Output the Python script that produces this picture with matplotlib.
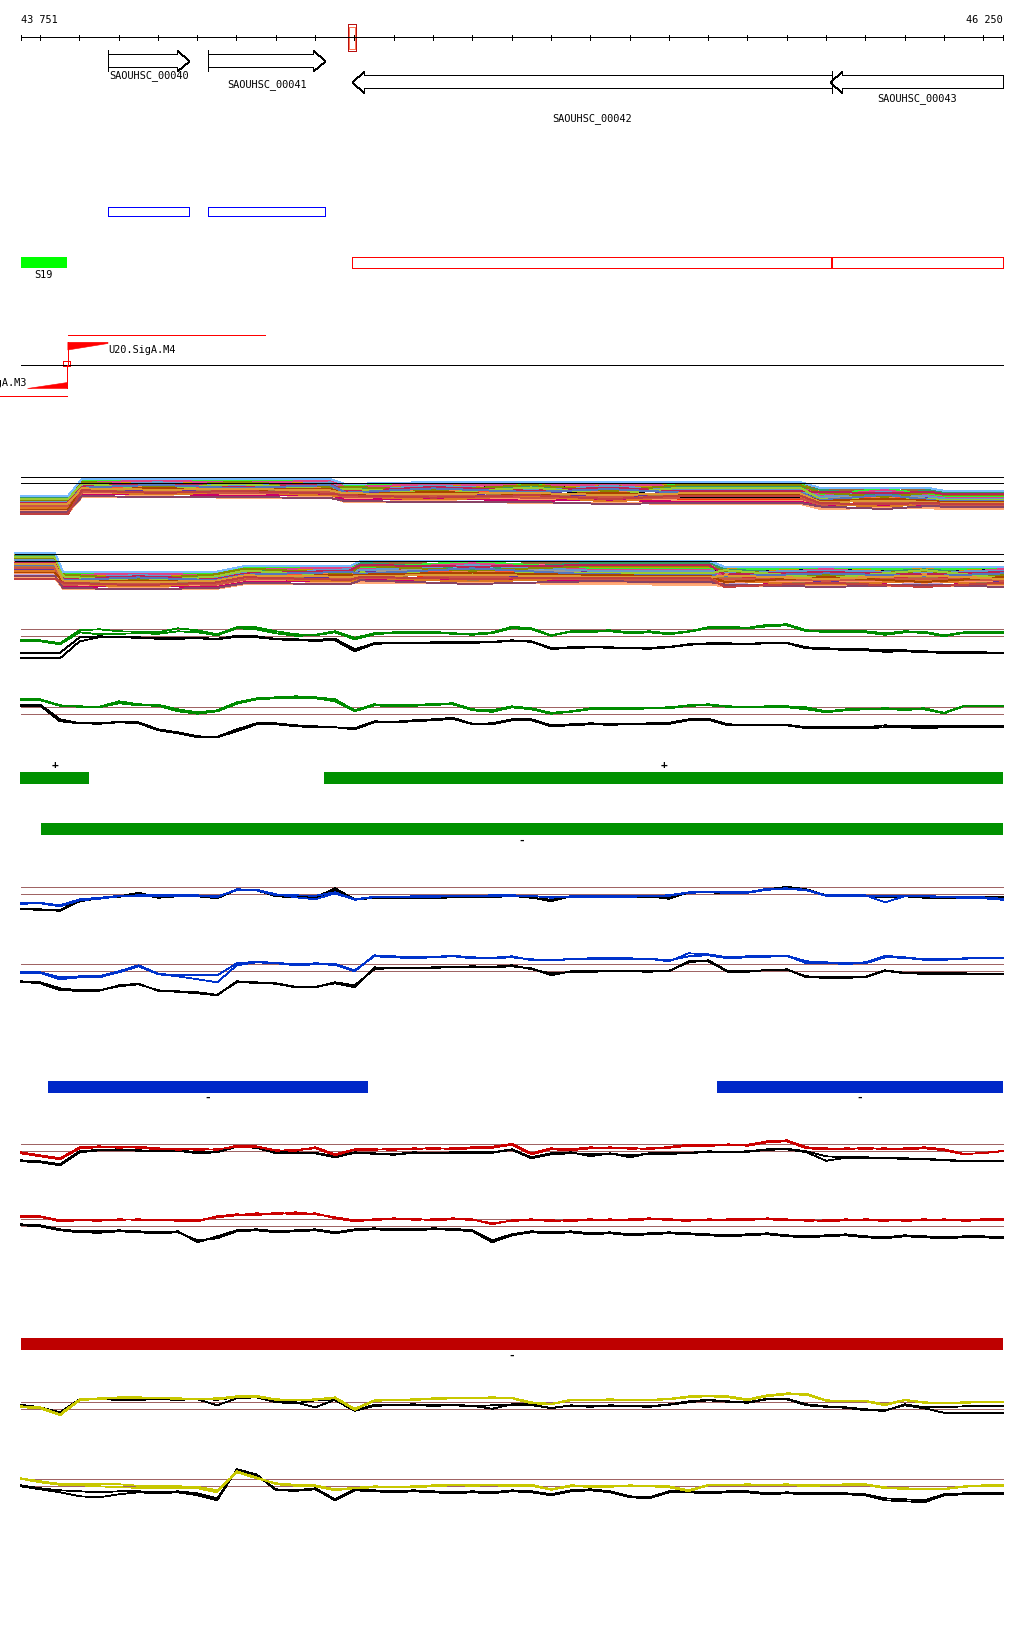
import numpy as np
import matplotlib
matplotlib.use("Agg")
import matplotlib.pyplot as plt
from matplotlib.patches import Polygon, Rectangle

# ---------------- data ----------------
view_start, view_end = 43751, 46250
tick_step = 100
marker_start, marker_end = 44584, 44605

gene_names = ['SAOUHSC_00040', 'SAOUHSC_00041', 'SAOUHSC_00042', 'SAOUHSC_00043']
gene_left = [43974, 44228, 44595, 45811]
gene_right = [44179, 44525, 45815, 46250]
gene_strand = ['+', '+', '-', '-']

cds_left = [43974, 44228]
cds_right = [44178, 44524]

s19_name = 'S19'
s19_left, s19_right = 43751, 43869

region_left = [44595, 45816]
region_right = [45813, 46250]

prom_names = ['U20.SigA.M4', 'U20.SigA.M3']
prom_pos = [43871, 43868]
prom_strand = ['+', '-']
prom_flag_bp = [102, 101]
prom_extent = [44372, 43600]

green_plus_left, green_plus_right = [43750, 44523], [43924, 46250]
green_minus_left, green_minus_right = [43803], [46250]
blue_minus_left, blue_minus_right = [43820, 45522], [44634, 46250]
red_minus_left, red_minus_right = [43751], [46250]

# line-track signal values (51 positions across the view)
grn_top_c1 = [-3.5, -4, -7, 6, 7, 5, 4.5, 4, 8, 6,
              2, 9, 9, 5, 2, 1.5, 5, -1.5, 3, 4,
              4, 4.5, 3, 2.5, 4, 9.5, 8, 1, 5, 5.5,
              6, 4, 5, 3, 5, 9, 9.5, 8.5, 11.5, 12,
              6, 5, 5, 5, 3, 5, 4.5, 1, 4, 4, 4]
grn_top_c2 = [-4.5, -5, -8, 4, 2, 2.5, 3, 2.5, 5, 4,
              1, 8, 7, 3, 0.5, 1, 4, -3, 2, 3.5,
              3.5, 3.5, 2.5, 1.5, 3, 8, 7, 0.5, 4.5, 4.5,
              5, 3, 4, 2, 4.5, 8, 8.5, 8, 10, 11,
              5, 4.5, 4, 4, 1.5, 4, 3.5, 0, 3.5, 3.5, 3.5]
grn_top_k1 = [-17, -17, -16.5, -1, 0, -0.5, -1, -2, -2, -1.5,
              -2.5, 0.5, 0, -2.5, -3, -3.5, -2.5, -13, -7, -6.5,
              -6.5, -6, -5.5, -6, -5.5, -4, -5, -11.5, -11, -10.5,
              -11, -11.5, -11.5, -10.5, -8, -7, -7, -7.5, -6.5, -6.5,
              -11, -12, -12.5, -13, -13.5, -14, -15, -15.5, -16, -16, -16.5]
grn_top_k2 = [-22, -22, -22, -5, -1, -1, -1.5, -2.5, -2.5, -2,
              -3, -0.5, -1, -3, -4, -4.5, -4, -15, -7.5, -7,
              -7, -6.5, -6.5, -6.5, -6, -4.5, -5.5, -12.5, -12, -11,
              -11.5, -12, -12.5, -11, -8.5, -7.5, -7.5, -8, -7, -7,
              -12, -13, -13.5, -14, -15.5, -15, -16, -16.5, -16.5, -16.5, -17]

grn_bot_c1 = [15.3, 15, 9, 8, 7.5, 13, 10, 9.5, 5, 2,
              4, 12, 16, 17, 18, 17, 15, 4, 10, 9,
              9, 10.5, 11, 5, 4, 8, 6, 1.5, 3, 6,
              6.5, 6, 6.5, 7, 9, 10, 8, 7.5, 8, 8,
              7, 3, 5, 5.5, 6, 5.5, 6, 1.5, 8.5, 8.5, 8.5]
grn_bot_c2 = [14.5, 14, 8.5, 7.5, 7, 11, 9, 8.5, 3, 0.5,
              3, 10.5, 15, 16, 16.5, 16, 13, 3, 9, 8,
              8.5, 9.5, 10, 4, 2.5, 7, 5, 0.5, 2.5, 5,
              5.5, 5, 6, 6, 8.5, 9, 7.5, 7, 7, 7,
              5, 2, 4, 5, 5, 4.5, 5, 1, 8, 8, 8]
grn_bot_k1 = [9.7, 9.5, -5, -9, -9, -7.5, -8, -15, -18, -22,
              -22.5, -15, -9, -9, -11, -12, -13, -14, -7, -7.5,
              -6, -5, -3.5, -9.5, -9, -5, -5, -11, -10, -9,
              -9.5, -9.5, -9, -8.5, -5, -4.5, -10, -10.5, -10.5, -10.5,
              -13, -13, -13, -13, -11, -12, -12, -12, -12, -12, -12]
grn_bot_k2 = [8.5, 8.5, -7, -9, -9.5, -8, -9, -16, -19, -23,
              -23, -17, -10, -10, -12, -13, -13, -15, -8, -8,
              -7, -6, -4.5, -10, -10, -6, -6, -12, -11, -10,
              -10.5, -10, -10, -9.5, -6, -5.5, -11, -11, -11, -11,
              -14, -14, -13.5, -14, -13, -13, -14, -13, -12.5, -12.5, -12.5]

blu_top_c1 = [-9, -8.5, -11, -5, -3.5, -1.5, -1, -1, -1, -1,
              -3, 5, 4.5, 0, -3, -5, 1, -5.5, -3, -2.5,
              -2, -2, -1.5, -1.5, -1, -1, -1.5, -3.5, -2, -2,
              -2, -2, -1.5, -1, 2, 2.5, 2, 2, 5.5, 6,
              4.5, -1, -1, -1, -8, -2, -1.5, -2.5, -3, -3, -4.5]
blu_top_c2 = [-9.5, -9, -12, -6, -4.5, -2, -1.5, -1.5, -1.5, -1.5,
              -2, 4, 4, -1, -1, -1.5, 2, -5, -2.5, -2.5,
              -2.5, -2.5, -2, -2, -1.5, -1.5, -2, -2.5, -2.5, -2.5,
              -2.5, -2.5, -2, -1.5, 1.5, 2, 1.5, 1.5, 4.5, 5.5,
              4, -1.5, -1.5, -2, -2, -1.5, -2, -3, -3.5, -4, -5.5]
blu_top_k1 = [-14.7, -15, -16, -5, -3.5, -2, 1.5, -3, -1.5, -1.5,
              -3, 5, 4.5, -1.5, -2.5, -3, 6, -5, -3, -3,
              -3, -3.5, -2.5, -2.5, -2.5, -1, -3, -7, -2, -2,
              -2, -2, -2, -4.5, 2, 2.5, 1.5, 2, 5, 7.5,
              5, -1, -1.5, -1.5, -2, -1.5, -3, -3, -3, -3, -2.5]
blu_top_k2 = [-15, -15.5, -16.5, -7, -4, -2.5, 0.5, -3.5, -2, -2,
              -4, 4.5, 4, -2, -3, -3.5, 4.5, -5.5, -3.5, -3.5,
              -3.5, -4, -3, -3, -3, -1.5, -3.5, -5.5, -2.5, -2.5,
              -2.5, -2.5, -2.5, -3, 1.5, 2, 1, 1.5, 4.5, 6.5,
              4.5, -1.5, -2, -2, -3, -2, -3.5, -3.5, -3.5, -3.5, -3]

blu_bot_c1 = [-1, -1, -6, -5, -5, 0, 6, -2.5, -4, -4,
              -4, 8, 9.5, 8.5, 7, 8, 7.5, 1, 15, 14,
              13, 14, 15, 13, 13, 14, 12, 11, 12, 12,
              12.5, 12.5, 12.5, 11, 15, 16, 13, 14, 14.5, 15.5,
              10, 9, 8, 9, 15.5, 14, 12, 12, 13, 13, 13]
blu_bot_c2 = [-1.5, -1.5, -8, -6, -6, -1, 5, -3, -5, -8,
              -11, 6, 9, 8, 6, 7, 6.5, 0, 16, 15,
              14, 14.5, 15.5, 14, 13.5, 15, 11, 11, 12.5, 13,
              13, 13, 12.5, 10, 18, 17, 14, 15, 15, 15.5,
              8, 8, 7.5, 8, 14, 13.5, 11.5, 11.5, 12.5, 13.5, 13.5]
blu_bot_k1 = [-10, -11, -17, -19, -19, -15, -13, -19, -20, -21,
              -23.5, -11, -11.5, -12, -15.5, -15.5, -12, -16, 4, 3,
              3, 3.5, 4, 4.5, 4, 5, 3, -4, 0, 0,
              0.5, 0.5, 0, 0, 10, 10, -0.5, -0.5, 1.5, 1.5,
              -5, -6, -6, -5.5, 1, -1.5, -2, -2, -2, -2.5, -2.5]
blu_bot_k2 = [-10.5, -12, -19, -19.5, -19.5, -14, -12.5, -19.5, -20.5, -22,
              -24, -10, -11, -12.5, -16, -16, -11, -14, 2, 3.5,
              3, 4, 4.5, 5, 4.5, 6, 2, -2, -1, -0.5,
              0, 0, -0.5, 0.5, 9, 11, 0, 0, 1, 2,
              -6, -6.5, -6.5, -6, 0.5, -2, -2.5, -2.5, -2.5, -3, -3]

red_top_c1 = [-1, -4, -7, 4, 5, 3.5, 4.5, 3, 1.5, 2.5,
              1.5, 5.5, 5, 1, 0.5, 4, -3, 2, 2, 1.5,
              3, 2.5, 3, 4, 4.5, 7.5, -2, 3, 2, 4,
              3, 3.5, 2, 4.5, 6.5, 6, 6, 6.5, 10, 11,
              4, 3, 2, 3.5, 2, 3, 4, 2, -2.5, -2, 0.5]
red_top_c2 = [-2, -5, -8, 3, 4, 4.5, 3.5, 2, 2.5, 1.5,
              2, 4.5, 4.5, 0.5, 1.5, 3, -4, 1.5, 1.5, 2.5,
              2, 3.5, 2, 3, 3.5, 6.5, -3, 2, 1, 3,
              4, 2.5, 3, 3.5, 5.5, 5, 7, 5.5, 9, 10,
              3, 2, 3, 2.5, 3, 2, 3, 1, -3, -1.5, 0]
red_top_k1 = [-9, -10, -13, 0, 1.5, 2, 1, 0.5, 1, -1,
              0, 5, 4, -1, -1, -1.5, -5, -1, -2, -3,
              -1, -1.5, -1, -1, -1, 2, -6, -2, -1, -5,
              -2, -6, -2, -2, -1.5, 0, -0.5, 0, 2, 2.5,
              0, -5, -6, -6, -6.5, -7, -7.5, -8.5, -9.5, -9.5, -9.5]
red_top_k2 = [-10, -11, -14, -1, 1, 1.5, 0.5, 0, 0.5, -2,
              -1, 4.5, 3.5, -2, -1.5, -2, -6, -1.5, -2.5, -3.5,
              -1.5, -2, -1.5, -1.5, -1.5, 1.5, -7, -3, -2, -3,
              -2.5, -4, -2.5, -2.5, -2, -0.5, -1, -0.5, 1.5, 2,
              -1, -9.5, -6.5, -6.5, -7, -7.5, -8, -9, -10, -10, -10]

red_bot_c1 = [10, 10, 6, 6.5, 6, 6.5, 7, 6, 6.5, 6,
              9, 11, 13, 12, 14, 12, 9, 6, 7, 8,
              6.5, 7, 8, 7, 2, 6, 7, 5, 6.5, 7,
              6, 7, 8, 6, 5.5, 7, 6.5, 6, 8, 7,
              5.5, 6, 7, 6, 5.5, 6.5, 7, 6, 6.5, 7, 7]
red_bot_c2 = [9, 9.5, 5, 6, 5.5, 7, 6.5, 6.5, 5.5, 5,
              10, 12, 11, 13.5, 12, 13, 8, 5, 6.5, 7,
              7.5, 6, 7, 6.5, 3, 5.5, 6, 6, 5.5, 6,
              7, 6, 7, 7, 6.5, 6, 7, 7, 7, 6,
              6.5, 5, 6, 7, 6.5, 5.5, 6, 7, 5.5, 6, 6]
red_bot_k1 = [2, 1, -3, -5, -5, -4, -5, -6, -5, -16,
              -10, -4, -3, -5, -4, -3, -6, -3, -2, -3,
              -3, -2, -2.5, -4, -14, -8, -5, -6, -5, -7,
              -6, -8, -7, -6, -7, -8, -9, -8, -7, -9,
              -10, -9, -8, -10, -11, -9, -10, -11, -10, -10, -11]
red_bot_k2 = [1, 0, -4, -6, -6.5, -5, -6, -7, -6, -14,
              -12, -5, -4, -6, -5, -4, -7, -4, -3, -4,
              -4, -3, -3.5, -5, -16, -9, -6, -7, -6, -8,
              -7, -9, -8, -7, -8, -9, -10, -9, -8, -10,
              -11, -10, -9, -11, -12, -10, -11, -12, -11, -11, -12]

yel_top_c1 = [3, 2, -5, 10, 11, 12, 12, 11.5, 11, 10.5,
              11, 13, 13.5, 10, 9.5, 10, 12, 0.5, 9, 9.5,
              10, 11, 11.5, 11.5, 12, 11.5, 7, 5.5, 9.5, 9.5,
              10, 9.5, 9.5, 10.5, 13, 13.5, 13, 10, 14, 16,
              15.5, 9, 8.5, 8.5, 5, 9.5, 7, 6.5, 7, 7.5, 7.5]
yel_top_c2 = [2, 1, -6, 9, 10.5, 11, 11.5, 11, 10.5, 10,
              10, 12, 12.5, 9.5, 9, 9.5, 11, -0.5, 8.5, 9,
              9.5, 10, 11, 11, 11, 11, 6, 5, 9, 9,
              9.5, 9, 9, 10, 12, 13, 12, 9, 13, 15,
              14.5, 8.5, 8, 8, 4, 9, 6.5, 6, 6.5, 7, 7]
yel_top_k1 = [4.5, 2, -3, 10, 10.5, 10, 10, 10.5, 10, 10.5,
              9.5, 12, 12.5, 8, 7, 2, 9.5, -1, 4.5, 4.5,
              5, 4, 4.5, 3.5, 0.5, 5, 5, 1, 4, 3,
              4, 3.5, 3, 5, 8, 9.5, 8, 7, 10.5, 10.5,
              5, 3, 2, 0, -1, 4, 1, -3.5, -4, -4, -4]
yel_top_k2 = [3, 1, -4, 9.5, 10, 9.5, 9.5, 10, 9.5, 10,
              4, 11, 12, 7, 6, 9, 9, -1.5, 3.5, 4,
              4, 3.5, 4, 3, 4, 4.5, 4, 1.5, 3.5, 2.5,
              3.5, 3, 2.5, 4.5, 7, 9, 7.5, 6.5, 10, 10,
              4, 2.5, 1.5, -1, -1.5, 5, 2, 2, 3, 3, 3]

yel_bot_c1 = [8, 5, 2.5, 2.5, 2, 2, 0.5, 0, 0, -0.5,
              -4, 14, 8, 3, 1.5, 1, -3, -1.5, 0, -0.5,
              0, 1, 1.5, 1, 1.5, 1, 1.5, -3, 1, 0.5,
              0, 1, 0.5, 0, -4, 1.5, 1.5, 2, 1.5, 2,
              1, 1.5, 2, 2, -1, -2, -2.5, -2.5, 0, 1, 1]
yel_bot_c2 = [7.5, 4, 1.5, 1, 0, -1, -1.5, -1.5, -2, -2,
              -6, 15, 9, 2, 0.5, 0, -4, -2, -1, -1,
              -1, 0, 1, 0.5, 1, 0, 0.5, -3.5, 0, -0.5,
              -0.5, 0.5, 0, -1, -5, 1, 1, 1.5, 1, 1.5,
              0, 1, 1.5, 1.5, -2, -2.5, -3, -3, -0.5, 0.5, 0.5]
yel_bot_k1 = [1, -2, -4, -5, -6, -5, -5, -6, -5, -7,
              -12, 16, 11, -3, -4, -2, -13, -3, -4, -5,
              -4, -5, -6, -5, -6, -4, -5, -8, -4, -3,
              -5, -10, -11, -5, -5, -6, -5, -5, -7, -6,
              -7, -7, -7, -8, -12, -13, -14, -8, -7, -7, -7]
yel_bot_k2 = [0, -3, -6, -10, -11, -8, -6, -7, -6, -9,
              -14, 17, 12, -4, -4.5, -3, -14, -4, -5, -6,
              -5, -6, -7, -6, -7, -5, -6, -9, -5, -4,
              -6, -11, -12, -6, -6, -7, -6, -6, -8, -7,
              -8, -8, -8, -9, -14, -15, -16, -9, -8, -8, -8]

thr_levels = [0, 7]

# multi-sample tracks: band knots, band top / depth, per-sample rank in band
mc1_knots = [43751, 43851, 43871, 43907, 44100, 44300, 44538, 44577, 44800, 45050,
             45250, 45429, 45734, 45785, 45950, 46065, 46103, 46250]
mc1_top = [-12.7, -12.7, -12.7, 4.3, 4.3, 4.3, 4.3, -0.7, 1.3, 1.3,
           1.3, 1.3, 1.3, -4.7, -4.7, -5, -7.7, -7.7]
mc1_depth = [18, 18, 18, 18, 18, 19, 19, 18, 20, 21, 22, 22, 22, 21, 21, 20, 18, 18]
mc1_regime = [0, 0, 0, 1, 3, 1, 3, 1, 3, 1, 3, 1, 1, 2, 3, 2, 2, 2]
mc1_thr = [0, 6]

mc2_knots = [43736, 43838, 43859, 44050, 44246, 44322, 44589, 44615, 44900, 45200,
             45504, 45542, 45800, 46050, 46250]
mc2_top = [8.3, 8.3, -10.7, -10.7, -10.7, -4.7, -4.7, 0.3, 0.3, 0.3,
           0.3, -5.7, -5.7, -5.7, -5.7]
mc2_depth = [26, 26, 17, 17, 17, 18, 18, 22, 23, 23, 24, 20, 20, 20, 20]
mc2_regime = [0, 0, 1, 3, 1, 1, 3, 2, 3, 2, 2, 0, 3, 0, 3]
mc2_thr = [0, 7.3]

rank_a = [0.55, 0.02, 0.10, 0.25, 0.40, 0.18, 0.33, 0.65, 0.08, 0.48, 0.85, 0.30,
          0.22, 0.72, 0.05, 0.14, 0.60, 0.36, 0.44, 0.12, 0.52, 0.78, 0.27, 0.92,
          0.20, 0.68, 0.38, 0.16, 0.95, 0.46, 0.58, 0.75, 0.00, 0.88, 0.42, 1.00]
rank_b = [0.70, 0.05, 0.15, 0.35, 0.20, 0.10, 0.28, 0.45, 0.03, 0.55, 0.60, 0.25,
          0.32, 0.80, 0.12, 0.08, 0.40, 0.30, 0.18, 0.22, 0.50, 0.85, 0.38, 0.90,
          0.14, 0.65, 0.42, 0.26, 1.00, 0.48, 0.75, 0.58, 0.00, 0.95, 0.52, 0.62]
rank_c = [0.60, 0.20, 0.30, 0.10, 0.45, 0.35, 0.15, 0.55, 0.05, 0.25, 0.70, 0.40,
          0.50, 0.90, 0.28, 0.33, 0.48, 0.12, 0.38, 0.08, 0.65, 0.95, 0.42, 0.85,
          0.22, 0.75, 0.18, 0.52, 1.00, 0.58, 0.80, 0.62, 0.00, 0.88, 0.68, 0.72]
rank_d = [0.35, 0.12, 0.05, 0.45, 0.28, 0.62, 0.20, 0.40, 0.15, 0.70, 0.52, 0.08,
          0.30, 0.58, 0.22, 0.02, 0.75, 0.48, 0.10, 0.38, 0.85, 0.66, 0.18, 0.80,
          0.42, 0.90, 0.25, 0.55, 0.95, 0.32, 0.68, 0.50, 0.00, 1.00, 0.60, 0.78]
mc_colors = ['#000000', '#999900', '#cc6633', '#990066', '#66aaee', '#66cc00',
             '#ff6699', '#ff5533', '#996633', '#cc3333', '#bbaadd', '#000033',
             '#999999', '#ff3300', '#cc9900', '#33ee33', '#663399', '#ee8844',
             '#dd4488', '#339966', '#aa7744', '#ff9966', '#6699cc', '#cc0066',
             '#888800', '#dd7722', '#bb2255', '#99cc33', '#ffaa77', '#5577bb',
             '#cc5544', '#aa4400', '#77bbff', '#884466', '#dd9933', '#c04040']

# ---------------- layout / style ----------------
W, H = 1024, 1640
px0, px1 = 20.7, 1003.0
px_per_bp = (px1 - px0) / (view_end - view_start)
X0 = view_start - px0 / px_per_bp
X1 = X0 + W / px_per_bp
FONT = dict(family='DejaVu Sans Mono', fontsize=7.4)
THR_COLOR = '#a06464'
LW = 0.6
PLW = 0.55

fig = plt.figure(figsize=(W / 100, H / 100), dpi=100)
fig.patch.set_facecolor('white')
ax = fig.add_axes([0, 0, 1, 1])
ax.set_xlim(X0, X1)
ax.set_ylim(H, 0)
ax.axis('off')

# ruler
ruler_y = 38
ax.plot([view_start, view_end], [ruler_y, ruler_y], color='black', lw=LW, antialiased=False)
ticks = [view_start] + list(range((view_start // tick_step + 1) * tick_step, view_end, tick_step)) + [view_end]
for t in ticks:
    ax.plot([t, t], [ruler_y - 2.5, ruler_y + 2.5], color='black', lw=LW, antialiased=False)
ax.text(view_start, 20, f"{view_start:,}".replace(',', ' '), ha='left', va='center', **FONT)
ax.text(view_end, 20, f"{view_end:,}".replace(',', ' '), ha='right', va='center', **FONT)
ax.add_patch(Rectangle((marker_start, 25.3), marker_end - marker_start, 27,
                       fill=False, ec='#b81010', lw=PLW, antialiased=False, snap=True))
ax.add_patch(Rectangle((marker_start + 3, 27.5), marker_end - marker_start - 7, 22.5,
                       fill=False, ec='#ff7755', lw=PLW, antialiased=False, snap=True))

# genes
gene_center = [61.7, 61.7, 82.8, 82.8]
gene_label_y = [76, 85, 118.3, 98.3]
hs, hh = 6.5, 10.7
head_bp = 11.5 / px_per_bp
bars = []
for name, l, r, s, c, ly in zip(gene_names, gene_left, gene_right, gene_strand, gene_center, gene_label_y):
    if s == '+':
        h = r - head_bp
        pts = [(l, c - hs), (h, c - hs), (h, c - hh), (r, c), (h, c + hh), (h, c + hs), (l, c + hs)]
        if l > view_start:
            bars.append((l, c))
    else:
        h = l + head_bp
        pts = [(r, c - hs), (h, c - hs), (h, c - hh), (l, c), (h, c + hh), (h, c + hs), (r, c + hs)]
        if r < view_end:
            bars.append((r, c))
    ax.add_patch(Polygon(pts, closed=True, fc='white', ec='black', lw=PLW, antialiased=False, snap=True))
    ax.text((l + r) / 2, ly, name, ha='center', va='center', **FONT)
for bx, c in bars:
    ax.plot([bx, bx], [c - hh, c + hh], color='black', lw=LW, antialiased=False)

# CDS boxes
for l, r in zip(cds_left, cds_right):
    ax.add_patch(Rectangle((l, 207.5), r - l, 9.5, fill=False, ec='#0000ff', lw=PLW,
                           antialiased=False, snap=True))

# S19 and red regions
ax.add_patch(Rectangle((s19_left, 258), s19_right - s19_left, 11, fc='#00ff00', ec='none'))
ax.text((s19_left + s19_right) / 2, 275, s19_name, ha='center', va='center', **FONT)
for l, r in zip(region_left, region_right):
    ax.add_patch(Rectangle((l, 258), r - l, 11, fill=False, ec='#ff0000', lw=PLW,
                           antialiased=False, snap=True))

# promoters
axis_y = 366
ax.plot([view_start, view_end], [axis_y, axis_y], color='black', lw=LW, antialiased=False)
for name, pos, s, fl, ext in zip(prom_names, prom_pos, prom_strand, prom_flag_bp, prom_extent):
    if s == '+':
        ax.plot([pos, pos], [343.3, axis_y], color='#ff0000', lw=LW, antialiased=False)
        ax.add_patch(Polygon([(pos, 343.3), (pos + fl, 343.3), (pos + fl, 344.5), (pos, 351)],
                             closed=True, fc='#ff0000', ec='#ff0000', lw=0.4))
        ax.plot([pos, ext], [336, 336], color='#ff0000', lw=LW, antialiased=False)
        ax.add_patch(Rectangle((pos - 12, 362.3), 18, 4.4, fill=False, ec='#ff0000', lw=PLW,
                               antialiased=False, snap=True))
        ax.text(pos + fl, 350, name, ha='left', va='center', **FONT)
    else:
        ax.plot([pos, pos], [axis_y, 389.3], color='#ff0000', lw=LW, antialiased=False)
        ax.add_patch(Polygon([(pos - fl, 389.3), (pos, 389.3), (pos, 382.7)],
                             closed=True, fc='#ff0000', ec='#ff0000', lw=0.4))
        ax.plot([ext, pos], [397, 397], color='#ff0000', lw=LW, antialiased=False)
        ax.text(pos - fl, 382.7, name, ha='right', va='center', **FONT)

# strand bars
def strand_bars(lefts, rights, y0, color, sign, label_y):
    for l, r in zip(lefts, rights):
        ax.add_patch(Rectangle((l, y0), r - l, 11.5, fc=color, ec='none'))
        ax.text((l + r) / 2, label_y, sign, ha='center', va='center', family='DejaVu Sans Mono',
                fontsize=8, fontweight='bold')

strand_bars(green_plus_left, green_plus_right, 773, '#009100', '+', 765.5)
strand_bars(green_minus_left, green_minus_right, 824, '#009100', '-', 841)
strand_bars(blue_minus_left, blue_minus_right, 1082, '#0028c8', '-', 1098)
strand_bars(red_minus_left, red_minus_right, 1339, '#be0000', '-', 1356)

# data track axes
def track_axes(y_ref, span=45):
    a = fig.add_axes([0, 1 - (y_ref + span) / H, 1, 2 * span / H])
    a.set_xlim(X0, X1)
    a.set_ylim(-span, span)
    a.axis('off')
    a.patch.set_visible(False)
    return a

grid = np.linspace(view_start, view_end, len(grn_top_c1))

def line_panel(y_ref, color, c1, c2, k1, k2):
    a = track_axes(y_ref)
    for lv in thr_levels:
        a.plot([view_start, view_end], [lv, lv], color=THR_COLOR, lw=LW, antialiased=False)
    for k in (k1, k2):
        a.plot(grid, k, color='black', lw=0.55, antialiased=False)
    for c in (c1, c2):
        a.plot(grid, c, color=color, lw=0.55, antialiased=False)

def mc_panel(y_ref, knots, top, depth, regime, thr, start):
    a = track_axes(y_ref)
    ranks = [rank_a, rank_b, rank_c, rank_d]
    top = np.array(top); depth = np.array(depth)
    for j, col in enumerate(mc_colors):
        r = np.array([ranks[g][j] for g in regime])
        a.plot(knots, top - r * depth, color=col, lw=0.7, antialiased=False)
    for lv in thr:
        a.plot([start, view_end], [lv, lv], color='black', lw=LW, antialiased=False)

mc_panel(484.3, mc1_knots, mc1_top, mc1_depth, mc1_regime, mc1_thr, view_start)
mc_panel(562.3, mc2_knots, mc2_top, mc2_depth, mc2_regime, mc2_thr, mc2_knots[0])

line_panel(637.3, '#008c00', grn_top_c1, grn_top_c2, grn_top_k1, grn_top_k2)
line_panel(715.3, '#008c00', grn_bot_c1, grn_bot_c2, grn_bot_k1, grn_bot_k2)
line_panel(895.3, '#0033cc', blu_top_c1, blu_top_c2, blu_top_k1, blu_top_k2)
line_panel(972.3, '#0033cc', blu_bot_c1, blu_bot_c2, blu_bot_k1, blu_bot_k2)
line_panel(1152.3, '#cc0000', red_top_c1, red_top_c2, red_top_k1, red_top_k2)
line_panel(1227.3, '#cc0000', red_bot_c1, red_bot_c2, red_bot_k1, red_bot_k2)
line_panel(1410.3, '#c8c800', yel_top_c1, yel_top_c2, yel_top_k1, yel_top_k2)
line_panel(1487.3, '#c8c800', yel_bot_c1, yel_bot_c2, yel_bot_k1, yel_bot_k2)

fig.savefig('out.png', dpi=100, facecolor='white')
